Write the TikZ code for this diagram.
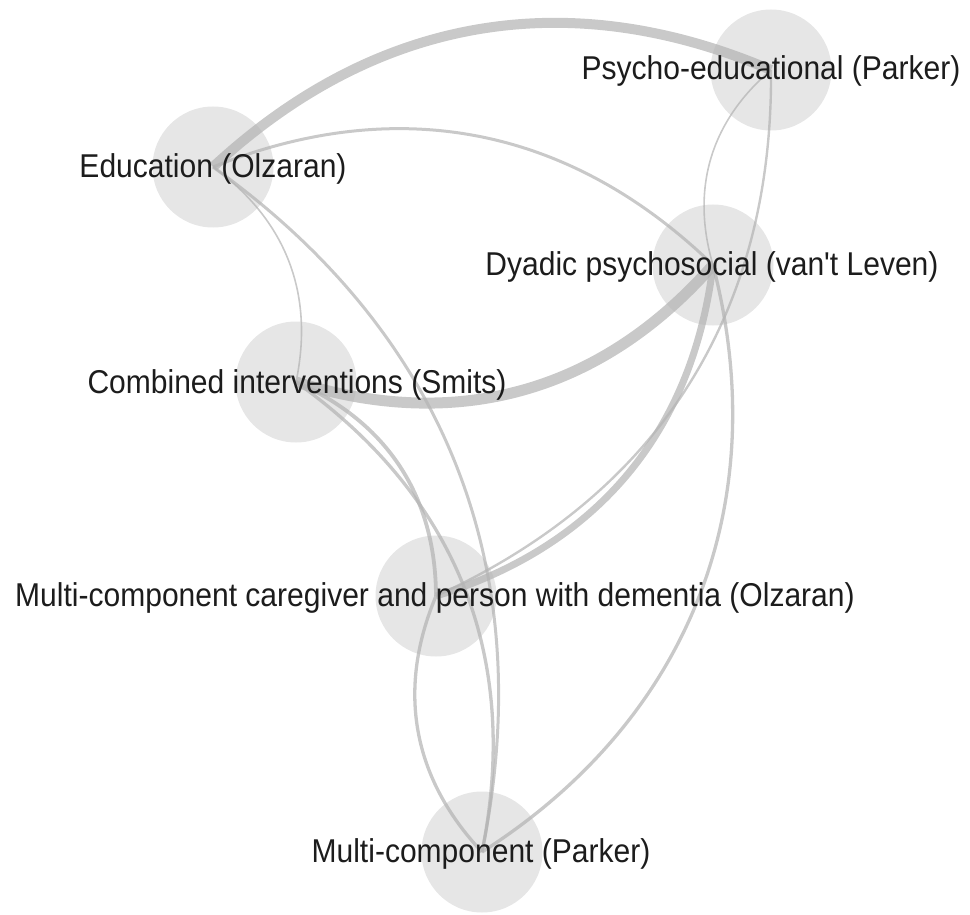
\documentclass[tikz,border=0pt]{standalone}
\usepackage{fontspec}
\setmainfont{Liberation Sans}
\definecolor{nodegray}{RGB}{230,230,230}
\definecolor{edgegray}{RGB}{180,180,180}
\definecolor{txt}{RGB}{28,28,28}
\begin{document}
\begin{tikzpicture}[x=1pt,y=-1pt,
  vert/.style={circle, minimum size=121pt, inner sep=0pt, fill=nodegray},
  lab/.style={anchor=base, inner sep=0pt, text=txt, font=\fontsize{33}{36}\selectfont},
  link/.style={draw=edgegray, draw opacity=0.72, bend left=33},
]
\useasboundingbox (0,0) rectangle (970,915);
% nodes
\node[vert] (psy) at (771,70) {};
\node[vert] (edu) at (213,167) {};
\node[vert] (dya) at (713,265) {};
\node[vert] (com) at (296,382) {};
\node[vert] (mcc) at (436,596) {};
\node[vert] (mc)  at (482,852) {};
% edges
\draw[link, line width=10pt]  (edu.center) to (psy.center);
\draw[link, line width=3pt]   (edu.center) to (dya.center);
\draw[link, line width=1.6pt] (edu.center) to (com.center);
\draw[link, line width=3pt]   (edu.center) to (mc.center);
\draw[link, line width=1.6pt] (dya.center) to (psy.center);
\draw[link, line width=2.4pt] (psy.center) to (mcc.center);
\draw[link, line width=11pt]  (dya.center) to (com.center);
\draw[link, line width=7pt]   (dya.center) to (mcc.center);
\draw[link, line width=3.3pt, bend left=36] (dya.center) to (mc.center);
\draw[link, line width=3.8pt] (com.center) to (mcc.center);
\draw[link, line width=3.3pt] (com.center) to (mc.center);
\draw[link, line width=3.3pt] (mc.center) to (mcc.center);
% labels
\node[lab] (lpsy) at (771,80)  {\scalebox{0.91}[1]{Psycho-educational (Parker)}};
\node[lab] (ledu) at (213,178) {\scalebox{0.91}[1]{Education (Olzaran)}};
\node[lab] (ldya) at (712,275) {\scalebox{0.91}[1]{Dyadic psychosocial (van\textquotesingle t Leven)}};
\node[lab] (lcom) at (297,393) {\scalebox{0.91}[1]{Combined interventions (Smits)}};
\node[lab] (lmcc) at (435,606) {\scalebox{0.91}[1]{Multi-component caregiver and person with dementia (Olzaran)}};
\node[lab] (lmc)  at (481,862) {\scalebox{0.91}[1]{Multi-component (Parker)}};
\end{tikzpicture}
\end{document}
